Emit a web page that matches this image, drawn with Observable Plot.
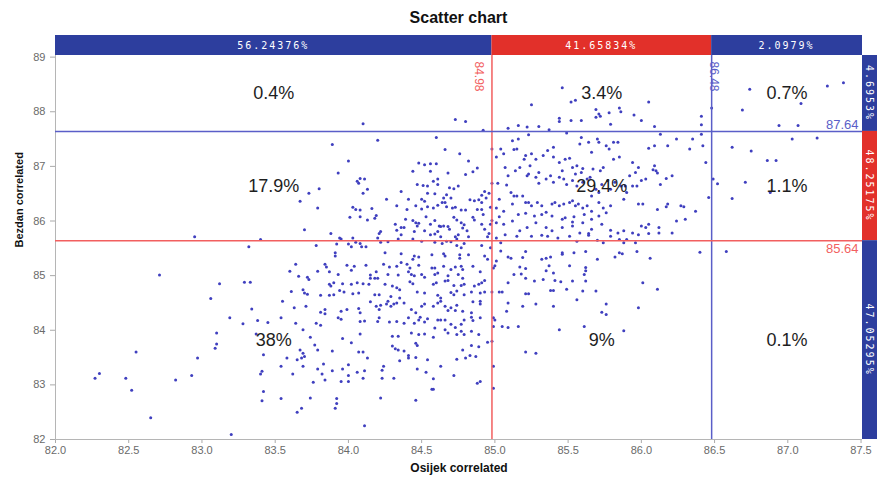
<!DOCTYPE html>
<html><head><meta charset="utf-8">
<script src="https://cdn.jsdelivr.net/npm/d3@7"></script>
<script src="https://cdn.jsdelivr.net/npm/@observablehq/plot@0.6"></script>
<style>
body{margin:0;background:#fff;font-family:"Liberation Sans",Arial,sans-serif;}
#title{height:28px;box-sizing:border-box;padding-top:10px;padding-left:55px;width:862px;text-align:center;font-size:16px;line-height:16px;font-weight:bold;color:#111;}
#chart svg{display:block;overflow:visible;}
</style></head><body>
<div id="title">Scatter chart</div>
<div id="chart"></div>
<script>
// Osijek (x) / Bezdan (y) correlated pairs
const points = [
[84.10,87.78],[84.73,87.86],[84.80,87.82],[84.92,87.66],
[82.95,85.71],[83.40,85.66],
[83.89,87.40],[84.20,87.48],[84.60,87.53],[84.66,87.31],[84.76,87.23],[84.98,87.32],[84.00,87.10],[84.48,87.06],[84.52,87.03],[84.56,87.05],[84.60,87.05],[84.82,87.10],[84.88,86.97],[84.85,86.90],[84.80,86.85],[83.93,86.88],[84.44,86.91],[84.56,86.91],[84.68,86.88],[84.61,86.77],[84.58,86.73],[84.11,86.77],[84.08,86.78],[84.06,86.73],[84.07,86.69],[84.98,86.69],[84.47,86.67],[84.51,86.65],[84.54,86.64],[84.61,86.67],[84.69,86.61],[84.72,86.59],[84.75,86.64],[83.73,86.51],[83.80,86.59],[84.13,86.58],[84.10,86.51],[84.36,86.54],[84.93,86.54],[84.96,86.51],[84.54,86.51],[84.59,86.50],[84.67,86.48],[84.65,86.42],[84.70,86.42],[84.91,86.47],[83.67,86.36],[83.79,86.24],[84.26,86.40],[84.41,86.40],[84.50,86.40],[84.52,86.36],[84.33,86.28],[84.40,86.21],[84.46,86.28],[84.50,86.22],[84.54,86.26],[84.58,86.24],[84.61,86.29],[84.64,86.34],[84.66,86.34],[84.67,86.26],[84.71,86.24],[84.73,86.25],[84.77,86.20],[84.80,86.20],[84.83,86.39],[84.86,86.37],[84.89,86.39],[84.91,86.34],[84.94,86.42],[84.88,86.21],[84.91,86.21],[84.92,86.12],[84.97,86.25],[84.03,86.25],[84.05,86.21],[84.08,86.20],[84.16,86.23],[84.01,86.07],[84.08,86.08],[84.13,86.02],[84.18,86.05],[84.19,86.10],[83.70,85.84],[83.88,85.77],[83.94,85.69],[84.03,85.69],[84.21,85.77],[84.22,85.81],[84.20,85.69],[84.32,85.94],[84.36,85.88],[84.39,86.03],[84.44,86.01],[84.46,85.97],[84.48,85.96],[84.53,86.08],[84.56,85.94],[84.59,86.01],[84.62,85.91],[84.63,85.90],[84.65,85.91],[84.68,85.90],[84.69,85.85],[84.72,86.07],[84.74,86.02],[84.77,85.97],[84.78,85.87],[84.79,85.93],[84.81,85.82],[84.75,85.75],[84.73,85.71],[84.74,85.67],[84.82,85.71],[84.85,86.07],[84.86,86.02],[84.91,85.94],[84.93,85.85],[84.97,85.94],[84.98,86.01],[84.96,85.77],[84.95,85.71],[84.33,85.83],[84.36,85.75],[84.38,85.88],[84.45,85.81],[84.47,85.91],[84.52,85.82],[84.56,85.75],[84.59,85.76],[84.61,85.81],[84.63,85.71],
[83.78,85.55],[83.92,85.58],[83.95,85.67],[84.00,85.58],[84.02,85.53],[84.05,85.61],[84.08,85.59],[84.09,85.53],[84.12,85.53],[84.22,85.61],[84.27,85.62],[84.34,85.67],[84.44,85.67],[84.50,85.63],[84.59,85.61],[84.64,85.59],[84.67,85.63],[84.70,85.62],[84.74,85.55],[84.77,85.51],[84.79,85.59],[84.91,85.55],[84.97,85.51],
[83.91,85.42],[83.91,85.36],[84.25,85.42],[84.36,85.40],[84.45,85.36],[84.48,85.34],[84.44,85.30],[84.57,85.38],[84.65,85.40],[84.66,85.36],[84.76,85.38],[84.76,85.32],[84.82,85.38],[84.93,85.36],[84.95,85.30],
[83.64,85.21],[83.84,85.21],[83.85,85.16],[83.99,85.19],[84.04,85.17],[84.12,85.19],[84.24,85.21],[84.28,85.16],[84.33,85.17],[84.36,85.24],[84.40,85.21],[84.42,85.14],[84.48,85.19],[84.57,85.14],[84.59,85.14],[84.65,85.17],[84.70,85.11],[84.73,85.16],[84.77,85.17],[84.78,85.11],[84.85,85.17],[84.90,85.07],[84.99,85.14],
[83.60,85.08],[83.79,85.08],[83.87,85.07],[83.93,85.02],[84.02,85.10],[84.15,85.01],[84.19,85.07],[84.27,85.02],[84.34,85.01],[84.41,85.07],[84.43,85.02],[84.45,85.00],[84.50,85.02],[84.52,84.97],[84.59,85.02],[84.61,85.05],[84.68,85.00],[84.75,85.02],[84.78,84.95],
[83.72,84.97],[83.73,84.93],[83.66,84.99],[84.15,84.95],[84.18,84.95],[84.20,84.95],
[83.87,84.84],[83.88,84.81],[83.90,84.87],[83.96,84.85],[84.02,84.84],[84.06,84.87],[84.10,84.85],[84.14,84.84],[84.25,84.84],[84.30,84.81],[84.33,84.78],[84.35,84.74],[84.42,84.89],[84.44,84.85],[84.58,84.84],[84.60,84.87],[84.66,84.90],[84.68,84.91],[84.72,84.82],[84.77,84.82],[84.79,84.84],[84.86,84.81],[84.89,84.84],[84.91,84.87],[84.93,84.91],
[83.61,84.71],[83.69,84.74],[83.70,84.68],[83.72,84.66],[83.81,84.64],[83.87,84.64],[83.94,84.73],[83.97,84.70],[83.90,84.65],[84.03,84.67],[84.07,84.68],[84.18,84.65],[84.21,84.65],[84.29,84.62],[84.35,84.59],[84.47,84.70],[84.52,84.68],[84.61,84.64],[84.63,84.59],[84.70,84.69],[84.72,84.65],[84.74,84.72],[84.79,84.65],[84.84,84.70],[84.90,84.68],[84.93,84.70],
[83.55,84.53],[83.63,84.41],[83.71,84.44],[83.81,84.33],[83.84,84.38],[83.84,84.30],[83.95,84.35],[83.93,84.23],[83.95,84.20],[83.99,84.38],[84.08,84.32],[84.07,84.40],[84.15,84.52],[84.19,84.44],[84.21,84.38],[84.22,84.46],[84.26,84.48],[84.27,84.53],[84.29,84.44],[84.31,84.48],[84.33,84.50],[84.38,84.50],[84.43,84.38],[84.46,84.32],[84.50,84.44],[84.52,84.48],[84.58,84.44],[84.61,84.50],[84.63,84.53],[84.66,84.44],[84.68,84.36],[84.70,84.41],[84.73,84.36],[84.74,84.46],[84.78,84.35],[84.84,84.32],[84.85,84.52],[84.90,84.53],[84.90,84.48],
[83.54,84.23],[83.64,84.13],[83.78,84.13],[83.81,84.09],[84.08,84.16],[84.11,84.17],[84.20,84.16],[84.21,84.23],[84.28,84.15],[84.33,84.16],[84.38,84.13],[84.41,84.23],[84.45,84.13],[84.48,84.19],[84.49,84.24],[84.52,84.15],[84.54,84.21],[84.59,84.04],[84.61,84.19],[84.63,84.19],[84.66,84.19],[84.70,84.11],[84.73,84.05],[84.77,84.11],[84.79,84.19],[84.84,84.24],[84.85,84.18],[84.90,84.23],
[83.69,84.01],[83.74,83.87],[83.96,83.85],[84.02,83.77],[84.08,83.93],[84.30,83.89],[84.34,83.89],[84.43,83.95],[84.48,83.92],[84.52,83.93],[84.46,83.76],[84.47,83.72],[84.58,83.87],[84.66,84.01],[84.68,83.95],[84.74,83.92],[84.77,83.98],[84.79,83.92],[84.84,83.98],[84.89,83.92],[84.95,83.78],[84.78,83.64],[84.84,83.72],[84.89,83.70],
[83.67,83.64],[83.69,83.58],[83.70,83.52],[83.68,83.49],[83.65,83.46],[83.58,83.49],[83.77,83.73],[83.79,83.64],[83.89,83.62],[84.07,83.60],[84.10,83.60],[84.13,83.49],[84.30,83.71],[84.32,83.66],[84.34,83.64],[84.35,83.44],[84.38,83.62],[84.41,83.54],[84.41,83.49],[84.46,83.50],[84.54,83.46],[84.63,83.34],[84.74,83.47],[84.80,83.49],[84.83,83.54],[84.87,83.52],
[83.54,83.34],[83.69,83.34],[83.79,83.29],[83.83,83.38],[83.89,83.26],[83.96,83.29],[84.00,83.37],[84.00,83.17],[84.06,83.23],[84.11,83.26],[84.23,83.27],[84.24,83.34],[83.82,83.20],[83.84,83.09],[83.62,83.20],[83.76,83.05],[83.95,83.06],[84.00,83.06],[84.10,83.12],[84.23,83.12],[84.31,83.12],[84.47,83.29],[84.53,83.23],[84.58,83.11],[84.72,83.17],[84.88,83.03],[84.90,83.06],[84.57,82.92],[84.58,82.92],[83.54,82.75],[83.74,82.76],[83.92,82.75],[84.22,82.76],[84.46,82.72],
[84.98,84.70],[84.99,84.23],[84.98,83.80],[84.99,83.34],[84.99,82.94],
[83.32,85.53],[82.71,85.01],[83.12,84.85],[83.29,84.88],[83.33,84.88],[83.06,84.58],[83.19,84.23],[83.28,84.12],[83.34,84.39],[83.38,84.18],[83.45,84.14],[83.10,83.95],[83.10,83.75],[83.09,83.67],[82.97,83.49],[82.93,83.17],[82.82,83.09],[82.55,83.60],[82.52,82.90],[82.27,83.12],[82.30,83.21],[82.48,83.12],[82.65,82.40],[83.20,82.09],[83.37,83.93],[83.42,83.55],[83.41,83.25],[83.40,83.20],[83.42,82.88],[83.41,82.71],[83.65,82.50],[83.68,82.57],[83.91,82.57],[83.92,82.66],[84.11,82.25],
[85.25,88.13],[85.52,88.18],[85.55,88.21],[86.05,88.18],[85.69,88.04],[85.71,87.96],[85.85,88.07],[85.86,88.00],[85.78,87.98],[86.48,88.07],[85.44,87.88],[85.44,87.82],[85.52,87.84],[85.59,87.84],[85.69,87.90],[85.72,87.92],[85.79,87.77],[85.95,87.94],[86.00,87.84],[86.09,87.73],[86.41,87.92],[86.41,87.76],[85.09,87.70],[85.16,87.75],[85.22,87.72],[85.30,87.73],[85.37,87.67],[85.49,87.61],[85.46,88.44],
[85.04,87.32],[85.06,87.23],[85.01,87.17],[85.07,86.98],[85.09,86.83],[85.02,86.69],[85.08,86.66],[85.11,86.52],[85.03,86.40],[85.01,86.24],[85.06,86.18],[85.03,86.08],[85.01,85.97],[85.06,85.94],[85.07,85.75],[85.01,85.69],[85.04,85.60],
[85.12,87.47],[85.16,87.50],[85.23,87.58],[85.13,87.31],[85.15,87.32],[85.21,87.20],[85.20,87.13],[85.25,87.23],[85.28,87.13],[85.17,86.98],[85.14,86.92],[85.22,86.83],[85.30,86.89],[85.24,87.01],
[85.33,87.20],[85.36,87.29],[85.40,87.35],[85.40,87.17],[85.44,87.07],[85.48,87.13],[85.51,87.15],[85.53,86.98],[85.56,87.01],[85.59,86.89],[85.60,86.96],[85.55,86.86],
[85.59,87.53],[85.58,87.41],[85.64,87.44],[85.66,87.26],[85.70,87.50],[85.71,87.44],[85.76,87.38],[85.78,87.32],[85.81,87.44],[85.84,87.44],[85.81,87.13],[85.85,87.17],[85.74,86.98],[85.72,86.92],[85.67,86.95],
[85.94,87.07],[85.98,86.98],[86.05,87.33],[86.09,87.38],[86.18,87.38],[86.24,87.50],[86.33,87.32],[86.42,87.38],[86.44,87.07],[86.35,87.50],[86.41,87.59],[86.13,87.59],[86.09,87.01],[86.10,86.92],[86.11,86.88],[86.08,86.94],
[86.17,86.78],[86.21,86.83],[86.13,86.67],[86.03,86.77],[86.00,86.74],[85.96,86.89],[85.92,86.83],[85.89,86.64],[85.94,86.64],[85.97,86.64],
[86.49,86.77],[86.46,86.43],[86.37,86.18],[86.29,86.26],[86.27,86.28],[86.18,86.31],[86.17,86.26],[86.11,86.21],[86.12,85.88],[86.05,85.94],[86.01,86.31],[85.98,86.31],[86.03,85.88],[86.00,85.91],[86.30,86.03],
[85.23,86.86],[85.28,86.80],[85.30,86.69],[85.35,86.77],[85.38,86.83],[85.40,86.71],[85.44,86.80],[85.46,86.92],[85.47,86.77],[85.49,86.67],[85.53,86.74],[85.56,86.64],[85.60,86.71],[85.63,86.77],[85.65,86.80],[85.69,86.58],[85.66,86.46],[85.71,86.52],[85.73,86.67],[85.77,86.74],[85.79,86.58],[85.82,86.71],[85.86,86.64],[85.88,86.40],[85.90,86.52],
[85.13,86.46],[85.15,86.46],[85.12,86.31],[85.19,86.46],[85.21,86.34],[85.23,86.34],[85.25,86.28],[85.29,86.34],[85.32,86.28],[85.35,86.16],[85.39,86.31],[85.41,86.34],[85.44,86.28],[85.47,86.31],[85.51,86.34],[85.53,86.37],[85.55,86.28],[85.57,86.31],[85.60,86.24],[85.63,86.28],[85.66,86.18],[85.71,86.34],[85.74,86.24],[85.79,86.28],
[85.16,86.12],[85.21,86.14],[85.27,86.09],[85.32,86.12],[85.39,86.09],[85.46,86.03],[85.48,86.06],[85.53,85.98],[85.54,86.08],[85.60,85.97],[85.61,86.12],[85.66,86.03],[85.71,86.09],[85.76,86.15],[85.12,86.00],[85.17,85.82],[85.22,85.88],[85.28,85.97],[85.35,85.88],[85.39,85.82],[85.46,85.88],[85.53,85.91],[85.58,85.78],[85.64,85.77],[85.66,85.85],[85.73,85.94],[85.79,85.83],[85.84,85.78],[85.88,85.82],[85.94,85.78],[85.98,85.75],[86.05,85.77],[86.12,85.78],[86.21,85.78],[86.24,86.00],
[85.15,85.72],[85.25,85.72],[85.32,85.74],[85.36,85.72],[85.43,85.69],[85.51,85.72],[85.56,85.63],[85.64,85.74],[85.70,85.65],[85.74,85.60],[85.79,85.72],[85.85,85.66],[85.88,85.60],[85.90,85.66],[85.96,85.60],
[85.04,85.45],[85.09,85.34],[85.11,85.32],[85.19,85.33],[85.21,85.44],[85.32,85.30],[85.35,85.32],[85.38,85.34],[85.46,85.39],[85.46,85.42],[85.54,85.42],[85.62,85.44],[85.70,85.30],[85.82,85.34],[85.85,85.42],[85.87,85.40],[85.97,85.44],[86.06,85.32],[86.40,85.43],
[85.01,85.27],[85.00,85.18],[85.17,85.16],[85.21,85.13],[85.35,85.09],[85.37,85.18],[85.40,85.05],[85.51,85.18],[85.62,85.15],[85.62,85.09],[85.61,85.02],[85.13,85.02],[85.18,85.03],[85.21,84.95],[85.27,84.90],[85.33,84.93],[85.41,84.91],[85.45,84.89],[85.53,84.90],[85.62,84.90],
[85.09,84.87],[85.03,84.70],[85.05,84.70],[85.21,84.67],[85.23,84.67],[85.38,84.73],[85.40,84.73],[85.49,84.75],[85.56,84.56],[85.60,84.72],[85.69,84.72],[86.01,84.87],[86.11,84.75],
[85.09,84.50],[85.08,84.35],[85.19,84.44],[85.28,84.48],[85.40,84.44],[85.76,84.48],[85.73,84.33],[85.76,84.29],[85.98,84.41],[85.00,84.19],[84.99,84.07],[85.05,84.07],[85.09,84.05],[85.16,84.07],[85.44,84.01],[85.61,84.07],[85.88,83.99],[85.21,83.60],[85.28,83.58],
[86.74,88.41],[86.69,88.03],[87.27,88.47],[87.38,88.53],[87.09,88.15],[86.94,87.75],[87.07,87.75],
[87.03,87.50],[87.20,87.52],[86.62,87.35],[86.75,87.28],[86.86,87.11],[86.92,87.11],[86.52,86.68],[86.71,86.71],[86.62,86.41],[86.88,86.52],
[86.58,85.44]
];

const xCuts = [84.98, 86.48];          // Osijek thresholds
const yCuts = [85.64, 87.64];          // Bezdan thresholds
const xDomain = [82, 87.51];
const yDomain = [82, 89.03];
const xTicks = [82.0, 82.5, 83.0, 83.5, 84.0, 84.5, 85.0, 85.5, 86.0, 86.5, 87.0, 87.5];
const yTicks = [82, 83, 84, 85, 86, 87, 88, 89];
const topShares = ["56.24376%", "41.65834%", "2.0979%"];          // left to right
const rightShares = ["4.6953%", "48.25175%", "47.05295%"];        // top to bottom
const cellLabels = [
  ["0.4%", "3.4%", "0.7%"],
  ["17.9%", "29.4%", "1.1%"],
  ["38%", "9%", "0.1%"]
];

const BAND_BLUE = "#2d3e9e", BAND_RED = "#e2302a";
const LINE_RED = "#f25f5f", LINE_BLUE = "#5a5ec8", DOT = "#3f3fbf";

const xb = [xDomain[0], ...xCuts, xDomain[1]];
const yb = [yDomain[1], yCuts[1], yCuts[0], yDomain[0]];
const cells = [];
for (let r = 0; r < 3; r++) for (let c = 0; c < 3; c++)
  cells.push({x: (xb[c] + xb[c + 1]) / 2, y: (yb[r] + yb[r + 1]) / 2, label: cellLabels[r][c]});

const W = 877, H = 452, mT = 27, mR = 15, mB = 41, mL = 55;

const plot = Plot.plot({
  width: W, height: H,
  marginTop: mT, marginRight: mR, marginBottom: mB, marginLeft: mL,
  style: {fontFamily: "'Liberation Sans', Arial, sans-serif", background: "#fff", overflow: "visible"},
  x: {domain: xDomain},
  y: {domain: yDomain},
  marks: [
    Plot.axisX({ticks: xTicks, tickFormat: d => d.toFixed(1), tickSize: 4, tickPadding: 3, fontSize: 11, fill: "#6a6a6a", stroke: "#aaa", label: null}),
    Plot.axisY({ticks: yTicks, tickFormat: d => String(d), tickSize: 5, tickPadding: 5, fontSize: 11, fill: "#6a6a6a", stroke: "#aaa", label: null}),
    Plot.ruleX([xDomain[0]], {stroke: "#b5b5b5"}),
    Plot.ruleY([yDomain[0]], {stroke: "#b5b5b5"}),
    Plot.dot(points, {x: d => d[0], y: d => d[1], r: 1.5, fill: DOT, stroke: null}),
    Plot.ruleX([xCuts[0]], {stroke: LINE_RED, strokeWidth: 1.5}),
    Plot.ruleX([xCuts[1]], {stroke: LINE_BLUE, strokeWidth: 1.5}),
    Plot.ruleY([yCuts[0]], {stroke: LINE_RED, strokeWidth: 1.5}),
    Plot.ruleY([yCuts[1]], {stroke: LINE_BLUE, strokeWidth: 1.5}),
    Plot.text([xCuts[0]], {x: d => d, frameAnchor: "top", dx: -8, dy: 6, rotate: 90, textAnchor: "start", text: d => d.toFixed(2), fill: LINE_RED, fontSize: 12}),
    Plot.text([xCuts[1]], {x: d => d, frameAnchor: "top", dx: 7, dy: 6, rotate: 90, textAnchor: "start", text: d => d.toFixed(2), fill: LINE_BLUE, fontSize: 12}),
    Plot.text([yCuts[1]], {y: d => d, frameAnchor: "right", textAnchor: "end", dx: -4, dy: -7, text: d => d.toFixed(2), fill: LINE_BLUE, fontSize: 13}),
    Plot.text([yCuts[0]], {y: d => d, frameAnchor: "right", textAnchor: "end", dx: -4, dy: 8, text: d => d.toFixed(2), fill: LINE_RED, fontSize: 13}),
    Plot.text(cells, {x: "x", y: "y", text: "label", fontSize: 18, fill: "#1e1e1e"}),
    Plot.text(["Osijek correlated"], {frameAnchor: "bottom", dy: 32, text: d => d, fontWeight: "bold", fontSize: 12, fill: "#111"}),
    Plot.text(["Bezdan correlated"], {frameAnchor: "left", dx: -36, rotate: -90, text: d => d, fontWeight: "bold", fontSize: 11, fill: "#111"})
  ]
});

document.getElementById("chart").appendChild(plot);

// Share bands drawn in the margins with the plot's own scales
const svg = d3.select(plot.tagName.toLowerCase() === "svg" ? plot : plot.querySelector("svg"));
const sx = plot.scale("x"), sy = plot.scale("y");
const X = v => sx.apply(v), Y = v => sy.apply(v);
const frameTop = Y(yDomain[1]), frameRight = X(xDomain[1]);
const bandH = 20, bandW = W - frameRight;
const bandColors = [BAND_BLUE, BAND_RED, BAND_BLUE];
const g = svg.append("g");
for (let i = 0; i < 3; i++) {
  const x0 = X(xb[i]), x1 = X(xb[i + 1]);
  g.append("rect").attr("x", x0).attr("y", frameTop - bandH).attr("width", x1 - x0).attr("height", bandH).attr("fill", bandColors[i]);
  g.append("text").attr("x", (x0 + x1) / 2).attr("y", frameTop - bandH / 2).attr("dy", "0.35em")
    .attr("text-anchor", "middle").attr("fill", "#fff").attr("font-family", "'DejaVu Sans Mono', monospace")
    .attr("font-size", 10).attr("letter-spacing", "2px").text(topShares[i]);
}
for (let i = 0; i < 3; i++) {
  const y0 = Y(yb[i]), y1 = Y(yb[i + 1]);
  g.append("rect").attr("x", frameRight).attr("y", y0).attr("width", bandW).attr("height", y1 - y0).attr("fill", bandColors[i]);
  const cx = frameRight + bandW / 2, cy = (y0 + y1) / 2;
  g.append("text").attr("transform", `translate(${cx},${cy}) rotate(90)`).attr("dy", "0.35em")
    .attr("text-anchor", "middle").attr("fill", "#fff").attr("font-family", "'DejaVu Sans Mono', monospace")
    .attr("font-size", 10).attr("letter-spacing", "2px").text(rightShares[i]);
}
</script>
</body></html>
